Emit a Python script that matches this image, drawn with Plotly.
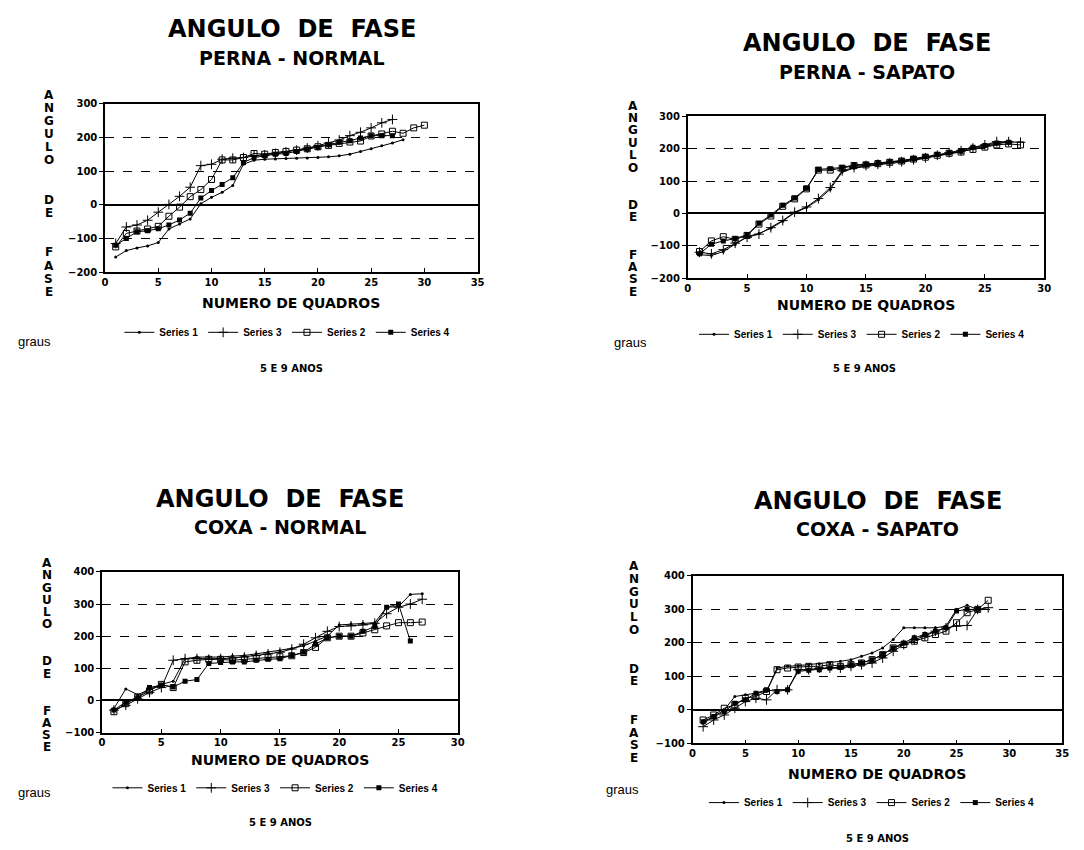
import plotly.graph_objects as go

# ---------------- data ----------------
SERIES_NAMES = ["Series 1", "Series 3", "Series 2", "Series 4"]

# PERNA - NORMAL
PN_S1 = [-155, -136, -128, -122, -112, -72, -57, -42, 3, 22, 37, 57, 120, 132, 135, 136, 137, 138, 139, 140, 142, 145, 150, 158, 166, 175, 183, 193]
PN_S3 = [-115, -66, -60, -46, -22, 1, 25, 52, 116, 120, 135, 138, 140, 145, 148, 152, 157, 162, 168, 175, 183, 192, 205, 215, 228, 243, 253]
PN_S2 = [-125, -85, -78, -72, -64, -34, -7, 24, 45, 75, 133, 133, 140, 152, 150, 155, 158, 162, 166, 172, 176, 182, 186, 189, 204, 210, 218, 212, 228, 236]
PN_S4 = [-120, -100, -80, -77, -71, -60, -45, -25, 20, 42, 60, 80, 125, 140, 145, 150, 152, 158, 165, 170, 178, 185, 190, 198, 205, 205, 205]

# PERNA - SAPATO
PS_S1 = [-128, -130, -118, -96, -72, -62, -46, -24, 2, 18, 42, 75, 128, 140, 146, 150, 155, 158, 164, 172, 178, 184, 190, 200, 208, 215, 222]
PS_S3 = [-120, -125, -112, -92, -74, -64, -44, -22, 4, 20, 46, 80, 132, 142, 148, 152, 156, 160, 166, 172, 180, 188, 194, 202, 212, 222, 222, 220]
PS_S2 = [-118, -85, -72, -80, -68, -33, -8, 22, 45, 76, 134, 134, 140, 148, 150, 154, 158, 162, 168, 174, 180, 186, 190, 198, 205, 212, 215, 212]
PS_S4 = [-125, -95, -85, -78, -66, -30, -5, 25, 48, 78, 136, 138, 142, 150, 152, 156, 160, 163, 170, 176, 182, 188, 192, 205, 210, 218, 220]

# COXA - NORMAL
CN_S1 = [-25, 36, 18, 35, 50, 60, 130, 135, 135, 135, 138, 140, 145, 150, 155, 162, 170, 185, 200, 235, 238, 240, 242, 290, 292, 330, 332]
CN_S3 = [-30, -15, 5, 25, 40, 125, 130, 130, 128, 130, 132, 135, 140, 145, 150, 160, 175, 195, 215, 230, 232, 235, 240, 270, 290, 300, 315]
CN_S2 = [-35, -10, 10, 30, 50, 40, 120, 125, 128, 128, 125, 128, 130, 133, 136, 139, 149, 165, 195, 200, 200, 210, 220, 232, 242, 242, 244]
CN_S4 = [-30, -5, 8, 40, 48, 42, 60, 65, 115, 118, 120, 120, 125, 128, 130, 140, 150, 175, 195, 200, 200, 215, 230, 290, 300, 185]

# COXA - SAPATO
CS_S1 = [-40, -20, 0, 40, 45, 50, 55, 125, 130, 132, 135, 138, 140, 145, 150, 160, 170, 185, 210, 245, 245, 245, 245, 250, 300, 312, 300]
CS_S3 = [-50, -30, -15, 5, 25, 35, 30, 60, 60, 120, 120, 125, 125, 125, 130, 135, 140, 155, 175, 195, 210, 220, 235, 245, 250, 252, 300, 305]
CS_S2 = [-30, -15, 5, 15, 35, 40, 55, 120, 125, 128, 130, 130, 135, 130, 135, 140, 150, 165, 185, 195, 205, 215, 225, 235, 260, 290, 300, 327]
CS_S4 = [-35, -20, -5, 20, 30, 50, 60, 55, 60, 115, 118, 120, 125, 128, 135, 140, 150, 165, 185, 200, 215, 225, 235, 245, 295, 300, 300]

PANEL_TITLE = "ANGULO&nbsp; DE&nbsp; FASE"
PANEL_SUBTITLES = ["PERNA - NORMAL", "PERNA - SAPATO", "COXA - NORMAL", "COXA - SAPATO"]
X_TITLE = "NUMERO DE QUADROS"
Y_LETTERS = "ANGULO  DE  FASE"
UNIT_TEXT = "graus"
AGE_TEXT = "5 E 9 ANOS"

PANEL_DATA = [
    [PN_S1, PN_S3, PN_S2, PN_S4],
    [PS_S1, PS_S3, PS_S2, PS_S4],
    [CN_S1, CN_S3, CN_S2, CN_S4],
    [CS_S1, CS_S3, CS_S2, CS_S4],
]
X_RANGES = [[0, 35], [0, 30], [0, 30], [0, 35]]
Y_RANGES = [[-200, 300], [-200, 300], [-100, 400], [-100, 400]]

# ---------------- layout geometry (pixels) ----------------
W, H = 1084, 850
def px(x):
    return x / W
def py(y):
    return 1 - y / H

# plot boxes: left, right, top, bottom
BOXES = [(103, 479, 99, 270), (691, 1051, 112, 276), (100, 459, 574, 737), (696, 1069, 578, 748)]
TITLE_POS = [(292, 23, 53), (872, 38, 67), (280, 500, 528), (883, 502, 530)]
LETTER_COL = [(46, 90, 290), (636, 101, 290), (44, 565, 752), (637, 568, 763)]
XTITLE_Y = [301, 303, 765, 779]
LEGEND_POS = [(287, 331), (867, 333), (275, 793), (877, 808)]
GRAUS_POS = [(13, 340), (615, 341), (13, 798), (607, 795)]
AGE_POS = [(291, 368), (870, 368), (280, 828), (883, 844)]

STYLES = [
    dict(symbol="circle", size=3),
    dict(symbol="cross-thin", size=7, line=dict(width=1, color="black")),
    dict(symbol="square-open", size=6, line=dict(width=1, color="black")),
    dict(symbol="square", size=5),
]

FONT = "Liberation Sans, Arial, sans-serif"
WIDE = "DejaVu Sans, Liberation Sans, sans-serif"

fig = go.Figure()
annotations = []
layout_axes = {}

for i in range(4):
    n = "" if i == 0 else str(i + 1)
    xa, ya = "x" + n, "y" + n
    leg = "legend" + n
    for s in range(4):
        yv = PANEL_DATA[i][s]
        fig.add_trace(go.Scatter(
            x=list(range(1, len(yv) + 1)), y=yv,
            mode="lines+markers", name=SERIES_NAMES[s],
            line=dict(color="black", width=1),
            marker=dict(color="black", **STYLES[s]),
            xaxis=xa, yaxis=ya, legend=leg,
        ))
    l, r, t, b = BOXES[i]
    x0, x1 = X_RANGES[i]
    y0, y1 = Y_RANGES[i]
    layout_axes["xaxis" + n] = dict(
        domain=[px(l), px(r)], anchor=ya, range=[x0, x1],
        tickvals=list(range(x0, x1 + 1, 5)), ticks="inside", ticklen=4,
        tickcolor="black", showline=True, mirror=True, linecolor="black",
        linewidth=1.5, showgrid=False, zeroline=False,
        tickfont=dict(family=WIDE, size=10, color="black", weight="bold"),
    )
    layout_axes["yaxis" + n] = dict(
        domain=[py(b), py(t)], anchor=xa, range=[y0, y1],
        tickvals=list(range(y0, y1 + 1, 100)), ticks="outside", ticklen=4,
        tickcolor="black", showline=True, mirror=True, linecolor="black",
        linewidth=1.5, showgrid=True, gridcolor="black", gridwidth=1.2,
        griddash="dash", zeroline=True, zerolinecolor="black", zerolinewidth=1.5,
        tickfont=dict(family=WIDE, size=10, color="black", weight="bold"),
    )
    lx, lyy = LEGEND_POS[i]
    layout_axes[leg] = dict(
        orientation="h", x=px(lx), y=py(lyy), xanchor="center", yanchor="middle",
        font=dict(family=FONT, size=10, color="black", weight="bold"),
        bgcolor="rgba(0,0,0,0)", itemwidth=30, tracegroupgap=0,
    )
    # titles
    tx, ty, sy = TITLE_POS[i]
    annotations.append(dict(text=PANEL_TITLE, x=px(tx), y=py(ty), xref="paper", yref="paper",
                            showarrow=False, xanchor="center", yanchor="middle",
                            font=dict(family=WIDE, size=24, color="black", weight="bold")))
    annotations.append(dict(text=PANEL_SUBTITLES[i], x=px(tx), y=py(sy), xref="paper", yref="paper",
                            showarrow=False, xanchor="center", yanchor="middle",
                            font=dict(family=WIDE, size=19, color="black", weight="bold")))
    # x title
    annotations.append(dict(text=X_TITLE, x=px((l + r) / 2), y=py(XTITLE_Y[i]), xref="paper", yref="paper",
                            showarrow=False, xanchor="center", yanchor="middle",
                            font=dict(family=WIDE, size=14, color="black", weight="bold")))
    # vertical stacked y title
    cx, ya0, ya1 = LETTER_COL[i]
    step = (ya1 - ya0) / (len(Y_LETTERS) - 1)
    for k, ch in enumerate(Y_LETTERS):
        if ch == " ":
            continue
        annotations.append(dict(text=ch, x=px(cx), y=py(ya0 + k * step), xref="paper", yref="paper",
                                showarrow=False, xanchor="center", yanchor="middle",
                                font=dict(family=WIDE, size=12, color="black", weight="bold")))
    gx, gy = GRAUS_POS[i]
    annotations.append(dict(text=UNIT_TEXT, x=px(gx), y=py(gy), xref="paper", yref="paper",
                            showarrow=False, xanchor="left", yanchor="middle",
                            font=dict(family=FONT, size=13, color="black")))
    ax_, ay_ = AGE_POS[i]
    annotations.append(dict(text=AGE_TEXT, x=px(ax_), y=py(ay_), xref="paper", yref="paper",
                            showarrow=False, xanchor="center", yanchor="middle",
                            font=dict(family=WIDE, size=10, color="black", weight="bold")))

fig.update_layout(
    width=W, height=H, margin=dict(l=0, r=0, t=0, b=0),
    paper_bgcolor="white", plot_bgcolor="white",
    annotations=annotations, showlegend=True,
    **layout_axes,
)

fig.write_html("out.html")
